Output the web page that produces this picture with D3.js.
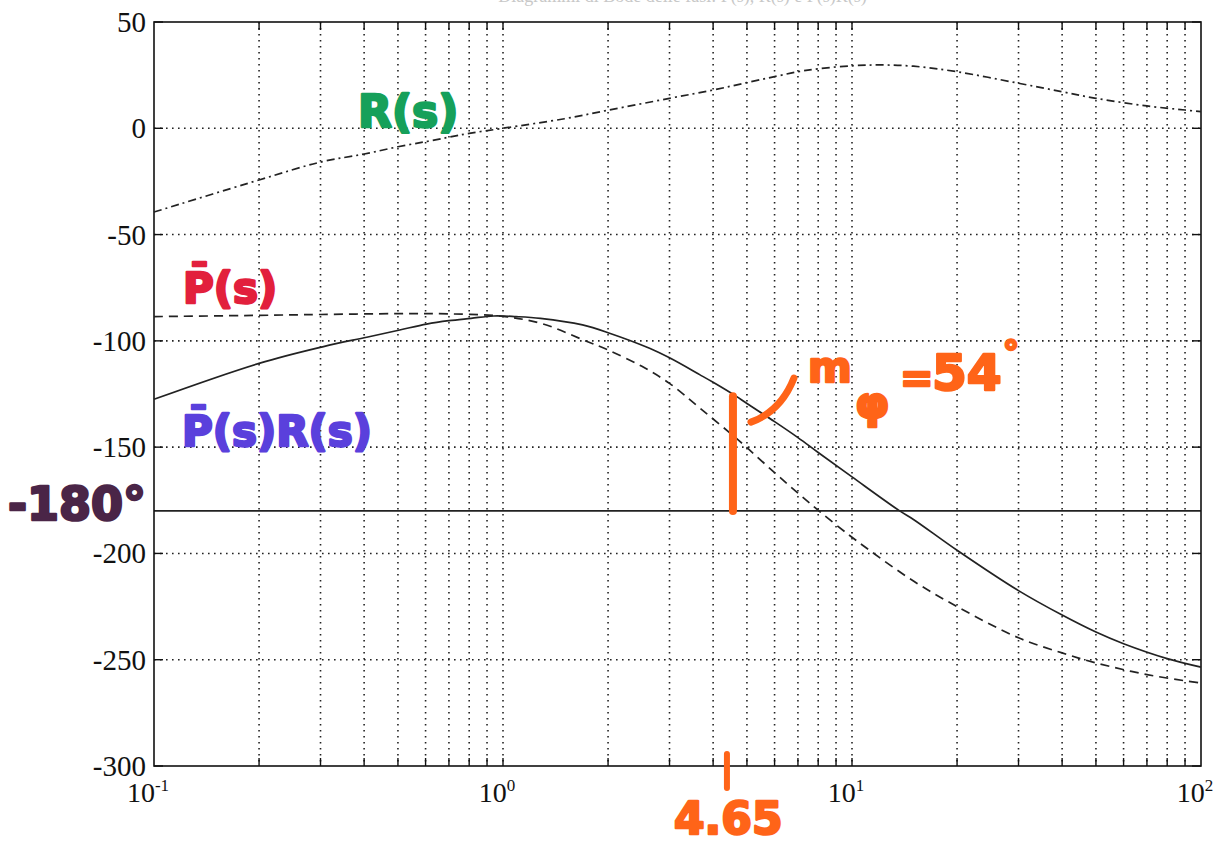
<!DOCTYPE html>
<html>
<head>
<meta charset="utf-8">
<script src="https://cdn.jsdelivr.net/npm/d3@7"></script>
<style>
  html, body { margin: 0; padding: 0; background: #fff; }
  svg { display: block; }
</style>
</head>
<body>
<svg id="chart" width="1219" height="843"></svg>
<script>
// Phase (degrees) vs angular frequency (rad/s)
const freqR = [0.1, 0.2, 0.3, 0.4, 0.5, 0.6, 0.7, 0.8, 1, 1.5, 2, 3, 4, 5, 6, 7, 8, 10, 12, 15, 20, 30, 40, 50, 70, 90, 100];
const phaseR = [-39.4, -24.3, -15.9, -12.1, -8.7, -6.3, -4.2, -2.4, 0, 4.5, 8.5, 14.1, 18, 21.5, 24.3, 26.6, 28, 29.4, 29.8, 29.2, 26.6, 21.2, 17.2, 14.1, 10.5, 8.6, 7.8];

const freqP = [0.1, 0.2, 0.3, 0.5, 0.7, 1, 1.3, 1.7, 2, 2.5, 3, 3.67, 4.78, 6, 7.1, 8.1, 9.8, 11.2, 15, 20, 30, 40, 50, 70, 100];
const phaseP = [-88.6, -88.0, -87.6, -87.2, -87.3, -88.5, -92.0, -99.6, -104.3, -112, -120, -131.7, -147.4, -162, -172.5, -180.4, -191.3, -198.4, -213, -225, -239.7, -246.8, -251.5, -257, -261];

const freqL = [0.1, 0.2, 0.306, 0.407, 0.506, 0.604, 0.7, 0.81, 0.94, 1.09, 1.28, 1.69, 2.02, 2.63, 3, 3.67, 4, 4.65, 5, 6, 7, 8, 10, 13.7, 15, 20, 30, 40, 50, 60, 80, 100];
const phaseL = [-127.5, -110.6, -102.7, -98.3, -94.9, -92.1, -90.5, -89.4, -88.3, -88.6, -89.4, -92.5, -96.4, -103.5, -108, -116, -119.5, -126, -129.5, -138, -145.5, -152.5, -164, -180, -184, -198.5, -217.5, -229, -237, -242.5, -249.5, -253.5];

const yTicks = [50, 0, -50, -100, -150, -200, -250, -300];
const xDecades = [0.1, 1, 10, 100];
const xExponents = ["-1", "0", "1", "2"];
const criticalPhase = -180;
const crossoverFreq = 4.65;
const crossoverPhase = -126;
const phaseMargin = 54;

const svg = d3.select("#chart");
const pLeft = 154, pRight = 1201, pTop = 22, pBottom = 766;

const x = d3.scaleLog().domain([0.1, 100]).range([pLeft, pRight]);
const y = d3.scaleLinear().domain([-300, 50]).range([pBottom, pTop]);

// faint heading at the very top edge
svg.append("text")
  .attr("x", (pLeft + pRight) / 2 + 5).attr("y", 2)
  .attr("text-anchor", "middle")
  .attr("font-family", "Liberation Serif, serif")
  .attr("font-size", 18)
  .attr("fill", "#c8c8c8")
  .text("Diagrammi di Bode delle fasi: P(s), R(s) e P(s)R(s)");

// dotted grid
const minor = [];
[0.1, 1, 10].forEach(d => { for (let k = 1; k <= 9; k++) minor.push(d * k); });
const gridX = minor.filter(v => v > 0.1 && v < 100);
const grid = svg.append("g")
  .attr("stroke", "#222").attr("stroke-width", 1.6)
  .attr("stroke-dasharray", "1.6,4.4");
grid.selectAll("line.v").data(gridX).join("line")
  .attr("x1", d => x(d)).attr("x2", d => x(d))
  .attr("y1", pTop).attr("y2", pBottom);
grid.selectAll("line.h").data(yTicks.filter(v => v > -300 && v < 50)).join("line")
  .attr("x1", pLeft).attr("x2", pRight)
  .attr("y1", d => y(d)).attr("y2", d => y(d));

// ticks on all four sides, pointing inward
const ticks = svg.append("g").attr("stroke", "#111").attr("stroke-width", 1.4);
ticks.selectAll("line.b").data(gridX).join("line")
  .attr("x1", d => x(d)).attr("x2", d => x(d)).attr("y1", pBottom).attr("y2", pBottom - 8);
ticks.selectAll("line.t").data(gridX).join("line")
  .attr("x1", d => x(d)).attr("x2", d => x(d)).attr("y1", pTop).attr("y2", pTop + 8);
ticks.selectAll("line.l").data(yTicks).join("line")
  .attr("x1", pLeft).attr("x2", pLeft + 9).attr("y1", d => y(d)).attr("y2", d => y(d));
ticks.selectAll("line.r").data(yTicks).join("line")
  .attr("x1", pRight).attr("x2", pRight - 9).attr("y1", d => y(d)).attr("y2", d => y(d));

// -180 degree reference
svg.append("line")
  .attr("x1", pLeft).attr("x2", pRight)
  .attr("y1", y(criticalPhase)).attr("y2", y(criticalPhase))
  .attr("stroke", "#222").attr("stroke-width", 1.6);

// frame
svg.append("rect")
  .attr("x", pLeft).attr("y", pTop)
  .attr("width", pRight - pLeft).attr("height", pBottom - pTop)
  .attr("fill", "none").attr("stroke", "#111").attr("stroke-width", 1.6);

// y tick labels
svg.append("g")
  .attr("font-family", "Liberation Serif, serif").attr("font-size", 29).attr("fill", "#111")
  .selectAll("text").data(yTicks).join("text")
  .attr("x", pLeft - 8).attr("y", d => y(d) + 10)
  .attr("text-anchor", "end")
  .text(d => String(d));

// x tick labels 10^n
const xl = svg.append("g")
  .attr("font-family", "Liberation Serif, serif").attr("fill", "#111")
  .selectAll("text").data(xDecades).join("text")
  .attr("x", d => x(d) - 6).attr("y", 802)
  .attr("text-anchor", "middle")
  .attr("font-size", 28);
xl.append("tspan").text("10");
xl.append("tspan").attr("font-size", 17).attr("dy", -11).text((d, i) => xExponents[i]);

// curves
const line = (fx, fy) => d3.line()
  .x((d, i) => x(fx[i])).y((d, i) => y(fy[i]))
  .curve(d3.curveCatmullRom.alpha(0.5))(fx);

svg.append("path").attr("d", line(freqR, phaseR))
  .attr("fill", "none").attr("stroke", "#222").attr("stroke-width", 1.7)
  .attr("stroke-dasharray", "8,4,2,4");
svg.append("path").attr("d", line(freqP, phaseP))
  .attr("fill", "none").attr("stroke", "#222").attr("stroke-width", 1.7)
  .attr("stroke-dasharray", "9,6");
svg.append("path").attr("d", line(freqL, phaseL))
  .attr("fill", "none").attr("stroke", "#222").attr("stroke-width", 1.7);

// marker annotations
const hand = "DejaVu Sans, sans-serif";
const note = (tx, ty, size, color, str) => svg.append("text")
  .attr("x", tx).attr("y", ty)
  .attr("font-family", hand).attr("font-weight", "bold").attr("font-size", size)
  .attr("fill", color).attr("stroke", color).attr("stroke-width", 2.5)
  .attr("stroke-linejoin", "round")
  .text(str);

note(358, 127, 44, "#16a05a", "R(s)");
note(183, 303, 42, "#e2203c", "P\u0304(s)");
note(182, 446, 42, "#5a40dc", "P\u0304(s)R(s)");
note(8, 520, 46, "#4a2547", "-180°");

// phase margin marking
const orange = "#ff6418";
const xc = x(crossoverFreq);
svg.append("line")
  .attr("x1", xc - 3).attr("x2", xc - 3)
  .attr("y1", y(criticalPhase)).attr("y2", y(crossoverPhase))
  .attr("stroke", orange).attr("stroke-width", 8).attr("stroke-linecap", "round");
svg.append("path")
  .attr("d", `M${xc + 15},${y(crossoverPhase) + 26} Q${xc + 45},${y(crossoverPhase) + 15} ${xc + 58},${y(crossoverPhase) - 18}`)
  .attr("fill", "none").attr("stroke", orange).attr("stroke-width", 7).attr("stroke-linecap", "round");
svg.append("line")
  .attr("x1", xc - 9).attr("x2", xc - 9)
  .attr("y1", pBottom - 12).attr("y2", pBottom + 22)
  .attr("stroke", orange).attr("stroke-width", 6).attr("stroke-linecap", "round");
note(xc - 62, 834, 44, orange, crossoverFreq.toFixed(2));

// m_phi = 54°
note(808, 382, 42, orange, "m");
note(855, 418, 44, orange, "φ");
note(900, 392, 40, orange, "=");
note(932, 390, 50, orange, String(phaseMargin));
note(1003, 364, 32, orange, "°");
</script>
</body>
</html>
